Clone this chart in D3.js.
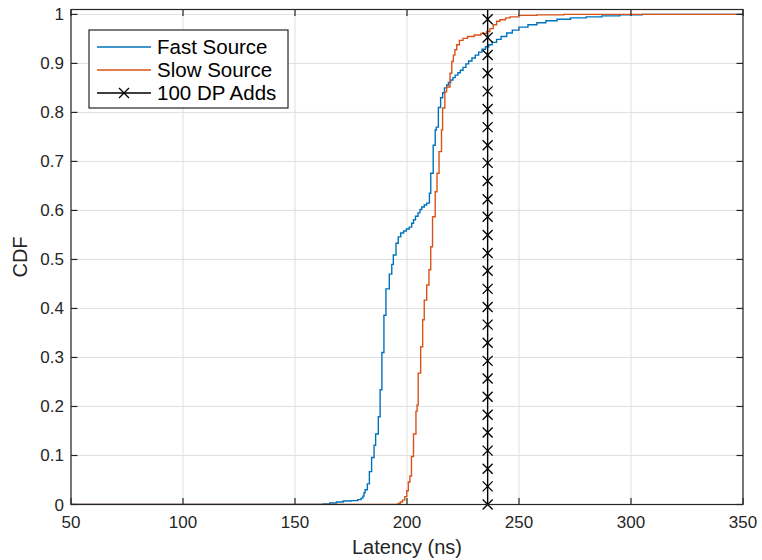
<!DOCTYPE html>
<html>
<head>
<meta charset="utf-8">
<script src="https://cdn.jsdelivr.net/npm/d3@7"></script>
<style>
html,body{margin:0;padding:0;background:#fff;}
svg{display:block;}
text{font-family:"Liberation Sans",Arial,Helvetica,sans-serif;fill:#262626;}
</style>
</head>
<body>
<svg id="chart" width="762" height="560"></svg>
<script>
// ---- data ----
const seriesNames = ["Fast Source", "Slow Source", "100 DP Adds"];
const seriesColors = ["#0072BD", "#D95319", "#000000"];

const fastLatency = [50,162.5,165.5,168.5,171.5,175,178,179.5,180.3,180.8,181.3,182.3,183.2,184.2,185.3,186,187.2,188,188.8,189.7,190.6,192.1,193.2,193.9,195.1,196.1,197.2,198.5,199.7,201,202.1,202.9,203.8,204.9,205.8,206.6,207.7,208.8,210,210.6,211.7,212.6,213.1,214,215,215.9,216.7,217.7,218.5,219.5,220.5,221.5,222.7,223.8,225,226.3,227.5,229,230.5,232,233.5,235,236.5,238,240,242,244.5,247,250,254,258,262,267,273,280,287,295,305,350];
const fastCdf = [0,0.001,0.003,0.005,0.007,0.008,0.01,0.013,0.017,0.024,0.03,0.042,0.067,0.096,0.121,0.144,0.179,0.234,0.31,0.386,0.44,0.47,0.49,0.509,0.533,0.546,0.554,0.558,0.562,0.566,0.574,0.581,0.588,0.595,0.602,0.607,0.611,0.615,0.635,0.676,0.733,0.764,0.77,0.81,0.83,0.84,0.85,0.856,0.861,0.866,0.871,0.876,0.881,0.886,0.892,0.899,0.905,0.911,0.917,0.923,0.929,0.934,0.938,0.943,0.949,0.955,0.962,0.968,0.974,0.979,0.983,0.987,0.99,0.993,0.995,0.997,0.999,1,1];

const slowLatency = [50,196,197,198,199,199.9,200.6,201.3,202,202.9,204,204.5,205,206.1,207,207.7,208.8,209.8,210.6,211.4,212.6,213.4,214.3,215.4,215.9,216.9,217.7,219.2,220,220.7,221.4,222.2,223.4,225,227,230,233,235.5,237,238.5,240,241.5,244,246,250,258,270,350];
const slowCdf = [0,0.002,0.005,0.009,0.016,0.028,0.046,0.058,0.098,0.144,0.19,0.203,0.268,0.322,0.377,0.417,0.448,0.479,0.526,0.587,0.638,0.676,0.72,0.764,0.809,0.842,0.852,0.88,0.904,0.917,0.928,0.938,0.947,0.951,0.955,0.958,0.961,0.965,0.971,0.979,0.986,0.989,0.993,0.995,0.998,0.999,1,1];

const dpAddsLatency = 236;
const dpAddsMarkerCdf = [0,0.037,0.073,0.11,0.147,0.183,0.22,0.257,0.293,0.33,0.367,0.403,0.44,0.477,0.513,0.55,0.587,0.623,0.66,0.697,0.733,0.77,0.807,0.843,0.88,0.917,0.953,0.99];

const xTicks = [50,100,150,200,250,300,350];
const yTicks = [0,0.1,0.2,0.3,0.4,0.5,0.6,0.7,0.8,0.9,1];
const yTickLabels = ["0","0.1","0.2","0.3","0.4","0.5","0.6","0.7","0.8","0.9","1"];
const xLabel = "Latency (ns)";
const yLabel = "CDF";

// ---- layout ----
const L = 71, R = 743, T = 9.5, B = 504.5;
const svg = d3.select("#chart");
const x = d3.scaleLinear().domain([50,350]).range([L,R]);
const y = d3.scaleLinear().domain([0,1.01]).range([B,T]);
const axisColor = "#262626";
const tickLen = 6.5;

// grid
const grid = svg.append("g");
grid.selectAll("line.gx").data(xTicks).join("line")
  .attr("x1",d=>x(d)).attr("x2",d=>x(d)).attr("y1",T).attr("y2",B)
  .attr("stroke","#dfdfdf").attr("stroke-width",1);
grid.selectAll("line.gy").data(yTicks).join("line")
  .attr("x1",L).attr("x2",R).attr("y1",d=>y(d)).attr("y2",d=>y(d))
  .attr("stroke","#dfdfdf").attr("stroke-width",1);

// clip
svg.append("clipPath").attr("id","clip").append("rect")
  .attr("x",L).attr("y",T).attr("width",R-L).attr("height",B-T);
const plot = svg.append("g").attr("clip-path","url(#clip)");

const line = d3.line().x(d=>x(d[0])).y(d=>y(d[1])).curve(d3.curveStepAfter);
const fastPts = fastLatency.map((v,i)=>[v,fastCdf[i]]);
const slowPts = slowLatency.map((v,i)=>[v,slowCdf[i]]);

plot.append("path").attr("d",line(fastPts)).attr("fill","none")
  .attr("stroke",seriesColors[0]).attr("stroke-width",1.4);
plot.append("path").attr("d",line(slowPts)).attr("fill","none")
  .attr("stroke",seriesColors[1]).attr("stroke-width",1.4);

// vertical DP line
plot.append("line").attr("x1",x(dpAddsLatency)).attr("x2",x(dpAddsLatency))
  .attr("y1",y(0)).attr("y2",y(1.01)).attr("stroke",seriesColors[2]).attr("stroke-width",1.4);
const ms = 5;
const marks = svg.append("g");
dpAddsMarkerCdf.forEach(v=>{
  const cx = x(dpAddsLatency), cy = y(v);
  marks.append("path").attr("d",`M${cx-ms},${cy-ms}L${cx+ms},${cy+ms}M${cx-ms},${cy+ms}L${cx+ms},${cy-ms}`)
    .attr("stroke",seriesColors[2]).attr("stroke-width",1.3).attr("fill","none");
});

// axes box
const axes = svg.append("g");
axes.append("rect").attr("x",L).attr("y",T).attr("width",R-L).attr("height",B-T)
  .attr("fill","none").attr("stroke",axisColor).attr("stroke-width",1.2);
// ticks
xTicks.forEach(t=>{
  axes.append("line").attr("x1",x(t)).attr("x2",x(t)).attr("y1",B).attr("y2",B-tickLen).attr("stroke",axisColor).attr("stroke-width",1.2);
  axes.append("line").attr("x1",x(t)).attr("x2",x(t)).attr("y1",T).attr("y2",T+tickLen).attr("stroke",axisColor).attr("stroke-width",1.2);
});
yTicks.forEach(t=>{
  axes.append("line").attr("x1",L).attr("x2",L+tickLen).attr("y1",y(t)).attr("y2",y(t)).attr("stroke",axisColor).attr("stroke-width",1.2);
  axes.append("line").attr("x1",R).attr("x2",R-tickLen).attr("y1",y(t)).attr("y2",y(t)).attr("stroke",axisColor).attr("stroke-width",1.2);
});
// tick labels
axes.selectAll("text.xt").data(xTicks).join("text")
  .attr("x",d=>x(d)).attr("y",B+23).attr("text-anchor","middle")
  .style("font-size","17px").text(d=>d);
axes.selectAll("text.yt").data(yTicks).join("text")
  .attr("x",L-7).attr("y",d=>y(d)+6).attr("text-anchor","end")
  .style("font-size","17px").text((d,i)=>yTickLabels[i]);
// axis labels
svg.append("text").attr("x",(L+R)/2).attr("y",554).attr("text-anchor","middle")
  .style("font-size","20px").text(xLabel);
svg.append("text").attr("transform",`translate(27,${(T+B)/2}) rotate(-90)`).attr("text-anchor","middle")
  .style("font-size","20px").text(yLabel);

// legend
const lg = svg.append("g");
lg.append("rect").attr("x",89).attr("y",30).attr("width",199).attr("height",78)
  .attr("fill","#fff").attr("stroke",axisColor).attr("stroke-width",1.2);
const rowsY = [47,70,93];
seriesNames.forEach((n,i)=>{
  lg.append("line").attr("x1",97).attr("x2",151).attr("y1",rowsY[i]).attr("y2",rowsY[i])
    .attr("stroke",seriesColors[i]).attr("stroke-width",1.4);
  lg.append("text").attr("x",157).attr("y",rowsY[i]+7).style("font-size","20.5px").style("fill","#000").text(n);
});
{
  const cx=124, cy=rowsY[2];
  lg.append("path").attr("d",`M${cx-ms},${cy-ms}L${cx+ms},${cy+ms}M${cx-ms},${cy+ms}L${cx+ms},${cy-ms}`)
    .attr("stroke","#000").attr("stroke-width",1.3).attr("fill","none");
}
</script>
</body>
</html>
